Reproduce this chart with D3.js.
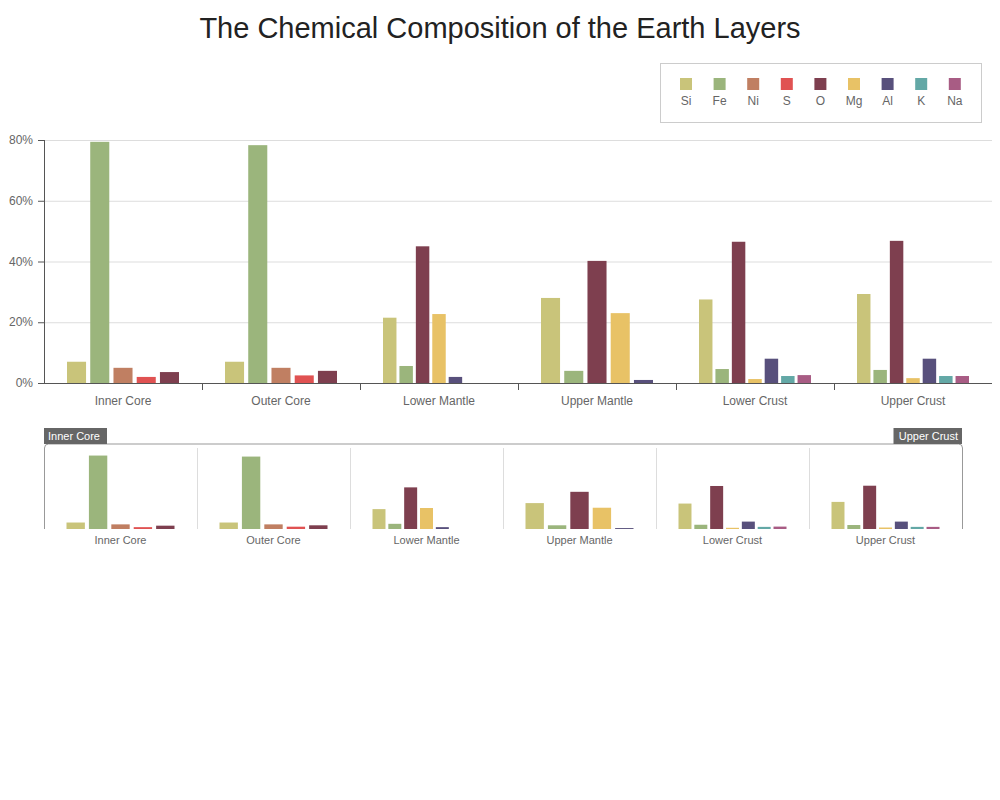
<!DOCTYPE html>
<html><head><meta charset="utf-8">
<script src="https://cdn.jsdelivr.net/npm/d3@7"></script>
<style>body{margin:0;background:#fff;font-family:"Liberation Sans",Arial,sans-serif}</style>
</head><body><svg id="c" width="1000" height="800"></svg>
<script>
const layers = ["Inner Core", "Outer Core", "Lower Mantle", "Upper Mantle", "Lower Crust", "Upper Crust"];
const elements = ["Si", "Fe", "Ni", "S", "O", "Mg", "Al", "K", "Na"];
const colors = ["#c9c47a", "#9bb57c", "#c07f62", "#e05252", "#7e3f4f", "#e8c266", "#58507c", "#63a8a6", "#a85c84"];
// percent per layer, null = element not reported for that layer
const Si = [7, 7, 21.5, 28, 27.5, 29.3];
const Fe = [79.4, 78.3, 5.6, 4, 4.6, 4.3];
const Ni = [5, 5, null, null, null, null];
const S  = [2, 2.5, null, null, null, null];
const O  = [3.6, 4, 45, 40.2, 46.5, 46.8];
const Mg = [null, null, 22.7, 23, 1.3, 1.6];
const Al = [null, null, 2, 1, 8, 8];
const K  = [null, null, 0, null, 2.3, 2.3];
const Na = [null, null, 0, null, 2.6, 2.3];
const series = [Si, Fe, Ni, S, O, Mg, Al, K, Na];
const yTicks = [0, 20, 40, 60, 80];

const svg = d3.select("#c");
svg.append("text").attr("x", 500).attr("y", 38).attr("text-anchor", "middle")
  .attr("font-size", 29).attr("fill", "#222").text("The Chemical Composition of the Earth Layers");

// legend
const lg = svg.append("g");
lg.append("rect").attr("x", 660.5).attr("y", 63.5).attr("width", 321).attr("height", 59)
  .attr("fill", "#fff").attr("stroke", "#ccc");
elements.forEach((e, i) => {
  const cx = 686 + i * 33.6;
  lg.append("rect").attr("x", cx - 6).attr("y", 78).attr("width", 12).attr("height", 12).attr("fill", colors[i]);
  lg.append("text").attr("x", cx).attr("y", 105).attr("text-anchor", "middle")
    .attr("font-size", 12).attr("fill", "#666").text(e);
});

function groupBars(g, x, y, innerW, barFrac) {
  layers.forEach((l, li) => {
    const present = series.map((s, si) => ({ si, v: s[li] })).filter(d => d.v !== null);
    const inner = d3.scaleBand().domain(d3.range(present.length))
      .range([x(l) + (x.bandwidth() - innerW) / 2, x(l) + (x.bandwidth() + innerW) / 2])
      .paddingInner(1 - barFrac);
    g.selectAll(null).data(present).enter().append("rect")
      .attr("x", (d, i) => inner(i)).attr("width", inner.bandwidth())
      .attr("y", d => y(d.v)).attr("height", d => y(0) - y(d.v))
      .attr("fill", d => colors[d.si]);
  });
}

// main chart
const x = d3.scaleBand().domain(layers).range([44, 992]);
const y = d3.scaleLinear().domain([0, 80]).range([383, 140]);
const m = svg.append("g");
yTicks.forEach(t => {
  m.append("line").attr("x1", 44).attr("x2", 992).attr("y1", y(t) + 0.5).attr("y2", y(t) + 0.5)
    .attr("stroke", t === 0 ? "#555" : "#ddd");
  m.append("line").attr("x1", 38).attr("x2", 44).attr("y1", y(t) + 0.5).attr("y2", y(t) + 0.5).attr("stroke", "#555");
  m.append("text").attr("x", 33).attr("y", y(t) + 4).attr("text-anchor", "end")
    .attr("font-size", 12).attr("fill", "#666").text(t + "%");
});
m.append("line").attr("x1", 44.5).attr("x2", 44.5).attr("y1", 140).attr("y2", 383).attr("stroke", "#555");
groupBars(m, x, y, 112, 0.82);
layers.forEach((l, i) => {
  if (i > 0) m.append("line").attr("x1", x(l) + 0.5).attr("x2", x(l) + 0.5).attr("y1", 383).attr("y2", 390).attr("stroke", "#555");
  m.append("text").attr("x", x(l) + x.bandwidth() / 2).attr("y", 405).attr("text-anchor", "middle")
    .attr("font-size", 12).attr("fill", "#666").text(l);
});

// overview chart
const x2 = d3.scaleBand().domain(layers).range([44, 962]);
const y2 = d3.scaleLinear().domain([0, 80]).range([529, 455]);
const o = svg.append("g");
groupBars(o, x2, y2, 108, 0.82);
layers.forEach((l, i) => {
  if (i > 0) o.append("line").attr("x1", x2(l) + 0.5).attr("x2", x2(l) + 0.5).attr("y1", 448).attr("y2", 529).attr("stroke", "#ddd");
  o.append("text").attr("x", x2(l) + x2.bandwidth() / 2).attr("y", 544).attr("text-anchor", "middle")
    .attr("font-size", 11).attr("fill", "#666").text(l);
});
o.append("path").attr("d", "M44.5,529V448Q44.5,444 48.5,444H958.5Q962.5,444 962.5,448V529")
  .attr("fill", "none").attr("stroke", "#999");
[[44, "Inner Core", "start"], [962, "Upper Crust", "end"]].forEach(([px, t, a]) => {
  const w = t.length * 5.5 + 8;
  o.append("rect").attr("x", a === "start" ? px : px - w).attr("y", 428).attr("width", w).attr("height", 16).attr("fill", "#666");
  o.append("text").attr("x", a === "start" ? px + 4 : px - 4).attr("y", 440).attr("text-anchor", a)
    .attr("font-size", 11).attr("fill", "#fff").text(t);
});
</script></body></html>
